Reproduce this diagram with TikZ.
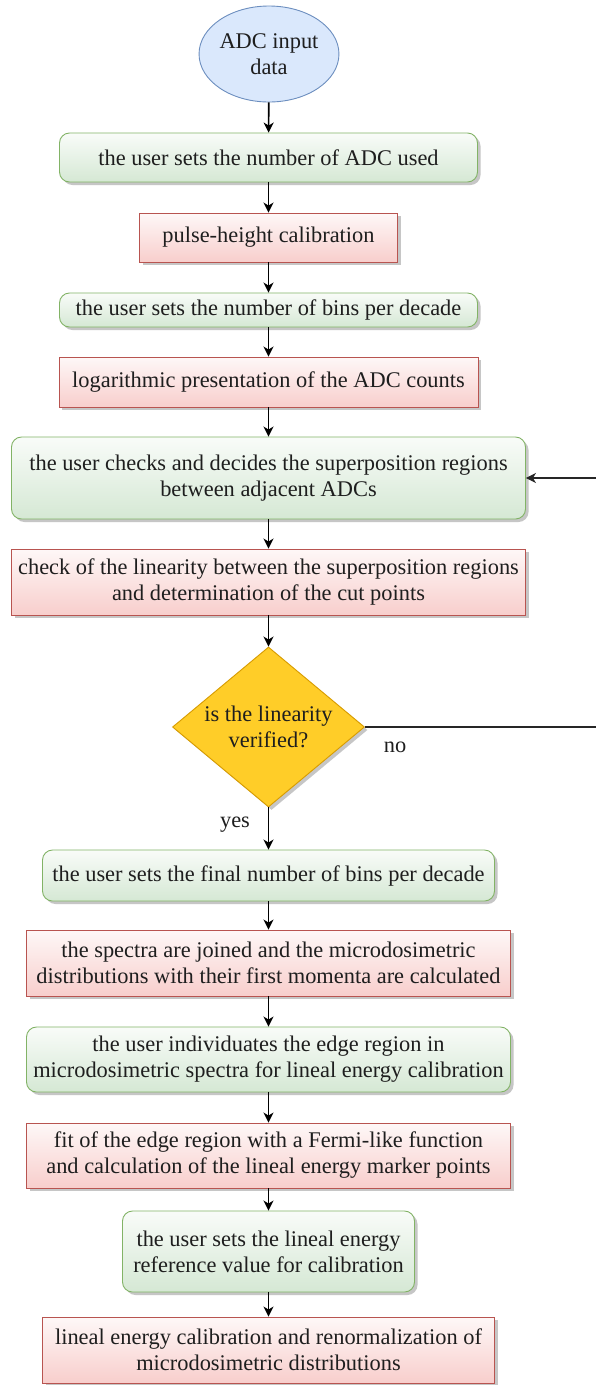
\documentclass[tikz,border=0pt]{standalone}
\usepackage{fontspec}
\setmainfont{Liberation Serif}
\usetikzlibrary{shapes.geometric,shadows,arrows.meta}
\definecolor{gfill}{HTML}{D5E8D4}
\definecolor{gline}{HTML}{82B366}
\definecolor{rfill}{HTML}{F8CECC}
\definecolor{rline}{HTML}{B85450}
\definecolor{bfill}{HTML}{DAE8FC}
\definecolor{bline}{HTML}{6C8EBF}
\definecolor{yfill}{HTML}{FFCD28}
\definecolor{yline}{HTML}{D79B00}
\definecolor{shadowgray}{HTML}{C6C6C6}
\definecolor{txt}{HTML}{1E1E1E}
\begin{document}
\begin{tikzpicture}[x=1pt,y=-1pt,
  every node/.style={font=\fontsize{22.4}{26}\selectfont, inner sep=0pt, align=center, text=txt},
  boxshadow/.style={drop shadow={shadow xshift=3pt,shadow yshift=-3pt,fill=shadowgray,opacity=1}},
  gbox/.style={boxshadow, draw=gline, line width=0.9pt, rounded corners=10pt,
     top color=gfill!15!white, middle color=gfill, bottom color=gfill},
  rbox/.style={boxshadow, draw=rline, line width=0.9pt,
     top color=rfill!15!white, middle color=rfill, bottom color=rfill},
  startnode/.style={ellipse, draw=bline, line width=0.9pt, fill=bfill, minimum width=130pt, minimum height=96pt},
  decision/.style={diamond, boxshadow, draw=yline, line width=0.9pt, fill=yfill, minimum width=192pt, minimum height=160pt},
  conn/.style={draw=black, line width=1.6pt, -{Stealth[length=10pt,width=10pt,inset=3pt]}},
  backline/.style={draw=black!85, line width=1.1pt},
  backarrow/.style={draw=black!85, line width=1.1pt, -{Stealth[length=10pt,width=10pt,inset=3pt]}}
]
\useasboundingbox (0,0) rectangle (595,1385);
\fill[white] (0,0) rectangle (595,1385);

\node[startnode] (s) at (269,54) {ADC input\\data};
\node[gbox, minimum width=418pt, minimum height=49pt] (b1) at (268.5,157.5) {the user sets the number of ADC used};
\node[rbox, minimum width=258pt, minimum height=49pt] (b2) at (268.5,237.5) {pulse-height calibration};
\node[gbox, minimum width=418pt, minimum height=34pt] (b3) at (268.5,310) {the user sets the number of bins per decade};
\node[rbox, minimum width=419pt, minimum height=50pt] (b4) at (268.5,382) {logarithmic presentation of the ADC counts};
\node[gbox, minimum width=514pt, minimum height=82pt] (b5) at (268.5,478) {the user checks and decides the superposition regions\\between adjacent ADCs};
\node[rbox, minimum width=514pt, minimum height=66pt] (b6) at (268.5,582) {check of the linearity between the superposition regions\\and determination of the cut points};
\node[decision] (d) at (268.5,727) {};
\node (dt) at (268.5,727) {is the linearity\\verified?};
\node[gbox, minimum width=452pt, minimum height=51pt] (b7) at (268.5,875.5) {the user sets the final number of bins per decade};
\node[rbox, minimum width=484pt, minimum height=66pt] (b8) at (268.5,963) {the spectra are joined and the microdosimetric\\distributions with their first momenta are calculated};
\node[gbox, minimum width=484pt, minimum height=65pt] (b9) at (268.5,1059.5) {the user individuates the edge region in\\microdosimetric spectra for lineal energy calibration};
\node[rbox, minimum width=484pt, minimum height=65pt] (b10) at (268.5,1155.5) {fit of the edge region with a Fermi-like function\\and calculation of the lineal energy marker points};
\node[gbox, minimum width=292pt, minimum height=81pt] (b11) at (268.5,1251.5) {the user sets the lineal energy\\reference value for calibration};
\node[rbox, minimum width=452pt, minimum height=66pt] (b12) at (268.5,1350) {lineal energy calibration and renormalization of\\microdosimetric distributions};

\node (no) at (395,747) {no};
\node (yes) at (235,825) {yes};

\coordinate (r1) at (598,727);
\coordinate (r2) at (598,478);

\draw[conn] (s) -- (b1);
\draw[conn] (b1) -- (b2);
\draw[conn] (b2) -- (b3);
\draw[conn] (b3) -- (b4);
\draw[conn] (b4) -- (b5);
\draw[conn] (b5) -- (b6);
\draw[conn] (b6) -- (d);
\draw[conn] (d) -- (b7);
\draw[conn] (b7) -- (b8);
\draw[conn] (b8) -- (b9);
\draw[conn] (b9) -- (b10);
\draw[conn] (b10) -- (b11);
\draw[conn] (b11) -- (b12);
\draw[backline] (d.east) -- (r1) -- (r2);
\draw[backarrow] (r2) -- (b5.east);
\end{tikzpicture}
\end{document}
